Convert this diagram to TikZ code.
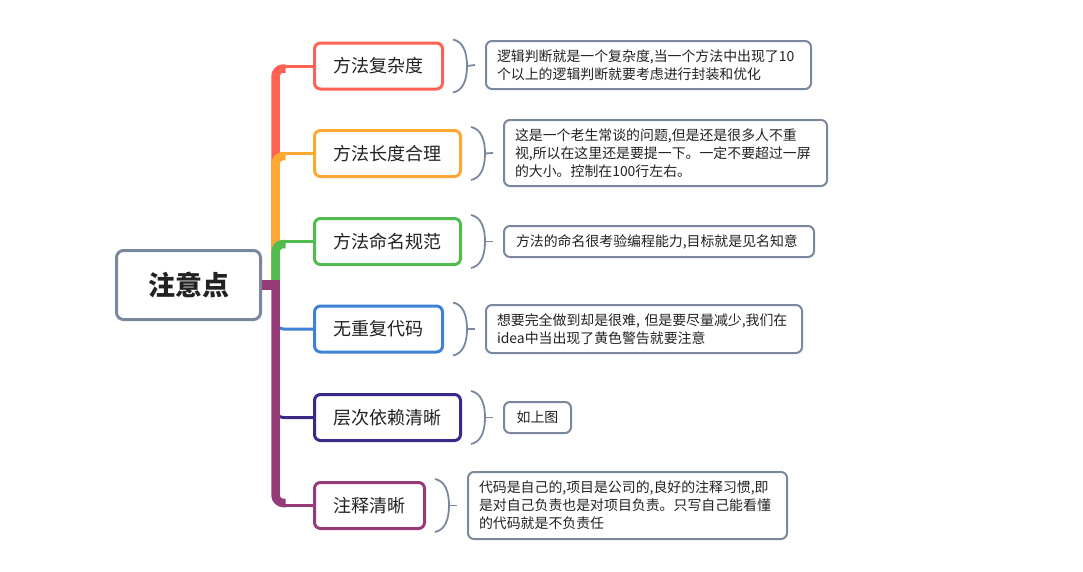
\documentclass[tikz,border=0pt]{standalone}
\usepackage{fontspec}
\setmainfont{Noto Sans CJK SC}
\usetikzlibrary{calc}
\definecolor{gbord}{HTML}{7A889E}
\definecolor{txt}{HTML}{222222}
\definecolor{cred}{HTML}{FF6152}
\definecolor{corange}{HTML}{FFA733}
\definecolor{cgreen}{HTML}{52BB4E}
\definecolor{cblue}{HTML}{3D82D4}
\definecolor{cdpurple}{HTML}{3B2887}
\definecolor{cmag}{HTML}{973A78}
\begin{document}
\begin{tikzpicture}[x=1pt,y=-1pt,
  rootbox/.style={draw=gbord, line width=3pt, rounded corners=7pt, minimum width=144pt, minimum height=69pt, inner sep=0pt, text=txt, font=\fontsize{27}{30}\selectfont\bfseries},
  branchbox/.style={draw=#1, line width=3pt, rounded corners=6pt, minimum height=46pt, inner sep=0pt, text=txt, anchor=west, font=\fontsize{18}{20}\selectfont},
  descbox/.style={draw=gbord, line width=2pt, rounded corners=6pt, align=left, inner xsep=11pt, inner ysep=0pt, anchor=west, text=txt, font=\fontsize{13.9}{18}\selectfont},
  brk/.style={draw=gbord, line width=1.8pt},
  trunkline/.style={line width=8.5pt, rounded corners=8pt},
  twig/.style={line width=3pt}
]
\useasboundingbox (0,0) rectangle (1083,571);
\fill[white] (0,0) rectangle (1083,571);

% root
\node[rootbox] (root) at (188.5,285) {注意点};
\coordinate (t) at ($(root.east)+(13.5,0)$);

% branches
\node[branchbox=cred, minimum width=128pt] (b1) at (313,66) {方法复杂度};
\node[branchbox=corange, minimum width=146pt] (b2) at (313,153.5) {方法长度合理};
\node[branchbox=cgreen, minimum width=146pt] (b3) at (313,241.5) {方法命名规范};
\node[branchbox=cblue, minimum width=128pt] (b4) at (313,329) {无重复代码};
\node[branchbox=cdpurple, minimum width=146pt] (b5) at (313,417.5) {层次依赖清晰};
\node[branchbox=cmag, minimum width=110pt] (b6) at (313,505.5) {注释清晰};

% descriptions
\node[descbox, text width=303pt, minimum height=48pt] (d1) at ($(b1.east)+(41,-1)$)
  {逻辑判断就是一个复杂度,当一个方法中出现了10\\个以上的逻辑判断就要考虑进行封装和优化};
\node[descbox, text width=301pt, minimum height=66pt] (d2) at ($(b2.east)+(41,-0.5)$)
  {这是一个老生常谈的问题,但是还是很多人不重\\视,所以在这里还是要提一下。一定不要超过一屏\\的大小。控制在100行左右。};
\node[descbox, text width=286pt, inner xsep=12pt, minimum height=31pt] (d3) at ($(b3.east)+(41,0)$)
  {方法的命名很考验编程能力,目标就是见名知意};
\node[descbox, text width=294pt, minimum height=48pt] (d4) at ($(b4.east)+(41,0)$)
  {想要完全做到却是很难, 但是要尽量减少,我们在\\idea中当出现了黄色警告就要注意};
\node[descbox, align=center, inner xsep=0pt, minimum width=67pt, minimum height=31pt] (d5) at ($(b5.east)+(41,0)$)
  {如上图};
\node[descbox, text width=297pt, minimum height=67pt] (d6) at ($(b6.east)+(41,0)$)
  {代码是自己的,项目是公司的,良好的注释习惯,即\\是对自己负责也是对项目负责。只写自己能看懂\\的代码就是不负责任};

% brackets
\foreach \b/\d in {b1/d1,b2/d2,b3/d3,b4/d4,b5/d5,b6/d6}{
  \draw[brk] ($(\b.north east)+(9,-2)$) .. controls +(10,2) and +(0,-14) .. ($(\b.east)+(23,0)$)
             .. controls +(0,14) and +(10,-2) .. ($(\b.south east)+(9,2)$);
  \draw[brk] ($(\b.east)+(23,0)$) -- ($(\d.west)+(-10,0)$);
}

% connectors upper
\draw[cred, trunkline] (t) |- ($(t |- b1.west)+(10,2.5)$);
\draw[cred, twig] ($(t |- b1.west)+(8,0)$) -- (b1.west);
\draw[corange, trunkline] (t) |- ($(t |- b2.west)+(10,2.5)$);
\draw[corange, twig] ($(t |- b2.west)+(8,0)$) -- (b2.west);
\draw[cgreen, trunkline] (t) |- ($(t |- b3.west)+(10,2.5)$);
\draw[cgreen, twig] ($(t |- b3.west)+(8,0)$) -- (b3.west);

% connectors lower
\draw[cblue, twig, rounded corners=8pt] (t) |- (b4.west);
\draw[cdpurple, twig, rounded corners=8pt] (t) |- (b5.west);
\draw[cmag, trunkline] (t) |- ($(t |- b6.west)+(10,-2.5)$);
\draw[cmag, twig] ($(t |- b6.west)+(8,0)$) -- (b6.west);
\draw[cmag, line width=10pt] (root.east) -- ($(t)+(4.25,0)$);
\end{tikzpicture}
\end{document}
